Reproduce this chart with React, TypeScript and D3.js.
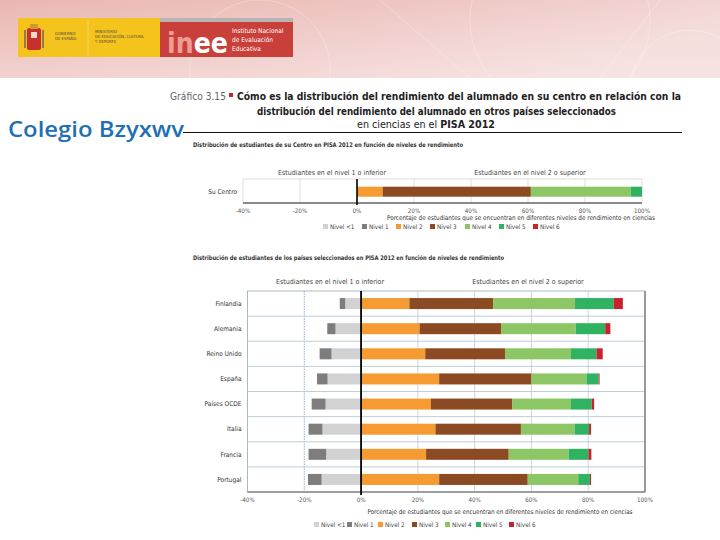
import * as React from "react";
import * as d3 from "d3";

// ---- data ----
const paises = ["Finlandia", "Alemania", "Reino Unido", "España", "Países OCDE", "Italia", "Francia", "Portugal"];
// left side (drawn from 0 outwards): light grey next to 0, dark grey outside
const nivelMenor1 = [5.6, 9.0, 10.4, 11.8, 12.5, 13.6, 12.3, 13.9];
const nivel1 = [1.9, 2.9, 4.2, 3.7, 4.9, 4.9, 6.2, 4.8];
const nivel2 = [17.0, 20.6, 22.6, 27.5, 24.6, 26.2, 22.9, 27.5];
const nivel3 = [29.5, 28.7, 28.1, 32.5, 28.7, 30.1, 29.1, 31.2];
const nivel4 = [28.8, 26.3, 23.2, 19.4, 20.6, 18.9, 21.1, 17.8];
const nivel5 = [13.7, 10.4, 9.0, 4.3, 7.3, 5.1, 7.0, 4.1];
const nivel6 = [3.2, 1.8, 2.2, 0.3, 0.9, 0.7, 1.0, 0.4];

// su centro
const centroLabel = "Su Centro";
const centroNegativo = [0, 0]; // nivel <1, nivel 1
const centroPositivo = [9, 52, 35, 4, 0]; // nivel 2..6

const ticks = [-40, -20, 0, 20, 40, 60, 80, 100];
const niveles = ["Nivel <1", "Nivel 1", "Nivel 2", "Nivel 3", "Nivel 4", "Nivel 5", "Nivel 6"];
const colores = ["#d2d2d2", "#7d7d7d", "#f59b32", "#8c4a22", "#8cc665", "#2fb363", "#c9222e"];

const FONT = "'Liberation Sans Narrow', 'DejaVu Sans Condensed', 'Liberation Sans', sans-serif";

function Legend({ x, y, gaps }: { x: number; y: number; gaps: number[] }) {
  return (
    <g>
      {niveles.map((n, i) => (
        <g key={n} transform={`translate(${x + gaps[i]},${y})`}>
          <rect x={0} y={-3} width={5} height={5} fill={colores[i]} />
          <text x={7} y={2} fontSize={6.3} fill="#444">{n}</text>
        </g>
      ))}
    </g>
  );
}

function Segments({ neg, pos, yc, h, x }: { neg: number[]; pos: number[]; yc: number; h: number; x: d3.ScaleLinear<number, number> }) {
  const out: JSX.Element[] = [];
  let acc = 0;
  neg.forEach((v, i) => {
    const x0 = x(-acc);
    const x1 = x(-(acc + v));
    out.push(<rect key={"n" + i} x={x1} y={yc - h / 2} width={x0 - x1} height={h} fill={colores[i]} />);
    acc += v;
  });
  acc = 0;
  pos.forEach((v, i) => {
    const x0 = x(acc);
    const x1 = x(acc + v);
    out.push(<rect key={"p" + i} x={x0} y={yc - h / 2} width={x1 - x0} height={h} fill={colores[i + 2]} />);
    acc += v;
  });
  return <g>{out}</g>;
}

export default function App() {
  // top chart
  const xTop = d3.scaleLinear().domain([-40, 100]).range([243, 642]);
  const topY0 = 179;
  const topY1 = 203;

  // bottom chart
  const xBot = d3.scaleLinear().domain([-40, 100]).range([247.5, 645]);
  const botY0 = 291;
  const botY1 = 492;
  const yBot = d3.scaleBand().domain(paises).range([botY0, botY1]);

  return (
    <svg width={720} height={540} style={{ position: "absolute", left: 0, top: 0, background: "#fff" }} fontFamily={FONT}>
      <defs>
        <linearGradient id="banner" x1="0" y1="0" x2="1" y2="0.3">
          <stop offset="0" stopColor="#eab6b2" />
          <stop offset="0.55" stopColor="#eec6c3" />
          <stop offset="1" stopColor="#f3d8d6" />
        </linearGradient>
        <linearGradient id="fade" x1="0" y1="0" x2="0" y2="1">
          <stop offset="0" stopColor="#fff" stopOpacity={0} />
          <stop offset="1" stopColor="#fff" stopOpacity={0.3} />
        </linearGradient>
      </defs>

      {/* header banner */}
      <rect x={0} y={0} width={720} height={78} fill="url(#banner)" />
      <rect x={0} y={0} width={720} height={78} fill="url(#fade)" />
      <g fill="none" stroke="#fff" strokeOpacity={0.35} strokeWidth={0.8}>
        <circle cx={260} cy={70} r={70} />
        <circle cx={560} cy={20} r={90} />
        <circle cx={690} cy={90} r={60} />
        <path d="M380 0 L470 78" />
        <path d="M600 78 L660 0" />
      </g>

      {/* gobierno / ministerio logo */}
      <rect x={18} y={18} width={142} height={39} fill="#f4c41c" />
      <line x1={88} y1={20} x2={88} y2={55} stroke="#f9dc7a" strokeWidth={0.8} />
      <g>
        <rect x={27} y={28} width={14} height={22} fill="#c8312b" rx={2} />
        <rect x={30} y={24} width={8} height={5} fill="#d19a2c" />
        <rect x={24} y={30} width={2} height={18} fill="#9c7a45" />
        <rect x={42} y={30} width={2} height={18} fill="#9c7a45" />
        <rect x={31} y={32} width={6} height={6} fill="#f3d7c7" />
      </g>
      <text x={55} y={35} fontSize={4.2} fill="#444">GOBIERNO</text>
      <text x={55} y={40} fontSize={4.2} fill="#444">DE ESPAÑA</text>
      <text x={95} y={33} fontSize={4.2} fill="#444">MINISTERIO</text>
      <text x={95} y={38} fontSize={4.2} fill="#444">DE EDUCACIÓN, CULTURA</text>
      <text x={95} y={43} fontSize={4.2} fill="#444">Y DEPORTE</text>

      {/* inee logo */}
      <rect x={160} y={18} width={133} height={4} fill="#b9b3b3" />
      <rect x={160} y={22} width={133} height={35} fill="#c9403b" />
      <text x={167} y={53} fontSize={28} fontWeight="bold" fill="#ec9d97" fontFamily="'DejaVu Sans', sans-serif" textLength={61} lengthAdjust="spacingAndGlyphs">
        in<tspan fill="#ffffff">ee</tspan>
      </text>
      <text x={232} y={33} fontSize={6.5} fill="#fff">Instituto Nacional</text>
      <text x={232} y={42} fontSize={6.5} fill="#fff">de Evaluación</text>
      <text x={232} y={51} fontSize={6.5} fill="#fff">Educativa</text>

      {/* titles */}
      <text x={170} y={100} fontSize={10.5} fill="#666" textLength={56} lengthAdjust="spacingAndGlyphs">Gráfico 3.15</text>
      <rect x={229} y={93} width={4} height={4} fill="#c9222e" />
      <text x={237} y={100} fontSize={10.5} fontWeight="bold" fill="#222" textLength={444} lengthAdjust="spacingAndGlyphs">
        Cómo es la distribución del rendimiento del alumnado en su centro en relación con la
      </text>
      <text x={257} y={115} fontSize={10.5} fontWeight="bold" fill="#222" textLength={359} lengthAdjust="spacingAndGlyphs">
        distribución del rendimiento del alumnado en otros países seleccionados
      </text>
      <text x={357} y={128} fontSize={10.5} fill="#222" textLength={138} lengthAdjust="spacingAndGlyphs">
        en ciencias en el <tspan fontWeight="bold">PISA 2012</tspan>
      </text>

      <text x={8} y={137} fontSize={21} fontWeight={600} fill="#1f6fb4" fontFamily="'Open Sans', 'DejaVu Sans', sans-serif" textLength={176} lengthAdjust="spacingAndGlyphs">
        Colegio Bzyxwv
      </text>
      <line x1={183} y1={132.5} x2={682} y2={132.5} stroke="#111" strokeWidth={1} />

      {/* ===== top chart ===== */}
      <text x={193} y={147} fontSize={6.3} fontWeight="bold" fill="#333" textLength={270} lengthAdjust="spacingAndGlyphs">
        Distribución de estudiantes de su Centro en PISA 2012 en función de niveles de rendimiento
      </text>
      <text x={332} y={175} fontSize={7} fill="#444" textAnchor="middle">Estudiantes en el nivel 1 o inferior</text>
      <text x={530} y={175} fontSize={7} fill="#444" textAnchor="middle">Estudiantes en el nivel 2 o superior</text>

      <rect x={xTop(-40)} y={topY0} width={xTop(100) - xTop(-40)} height={topY1 - topY0} fill="#fff" stroke="#cfcfcf" strokeWidth={0.7} />
      {ticks.filter((t) => t > -40 && t < 100 && t !== 0).map((t) => (
        <line key={t} x1={xTop(t)} x2={xTop(t)} y1={topY0} y2={topY1} stroke="#d6d6d6" strokeWidth={0.8} />
      ))}
      <Segments neg={centroNegativo} pos={centroPositivo} yc={191.7} h={10} x={xTop} />
      <line x1={xTop(-40)} x2={xTop(100)} y1={topY1} y2={topY1} stroke="#8a8a8a" strokeWidth={1.8} />
      <line x1={xTop(0)} x2={xTop(0)} y1={topY0} y2={205} stroke="#000" strokeWidth={1.6} />
      <text x={237} y={194} fontSize={6.5} fill="#333" textAnchor="end">{centroLabel}</text>
      {ticks.map((t) => (
        <text key={t} x={xTop(t)} y={213} fontSize={6.2} fill="#555" textAnchor="middle">{t + "%"}</text>
      ))}
      <text x={521} y={220} fontSize={6.5} fill="#333" textAnchor="middle" textLength={268} lengthAdjust="spacingAndGlyphs">
        Porcentaje de estudiantes que se encuentran en diferentes niveles de rendimiento en ciencias
      </text>
      <Legend x={323} y={227} gaps={[0, 39, 73, 107, 142, 176, 210]} />

      {/* ===== bottom chart ===== */}
      <text x={193} y={260} fontSize={6.3} fontWeight="bold" fill="#333" textLength={311} lengthAdjust="spacingAndGlyphs">
        Distribución de estudiantes de los países seleccionados en PISA 2012 en función de niveles de rendimiento
      </text>
      <text x={330} y={284} fontSize={7} fill="#444" textAnchor="middle">Estudiantes en el nivel 1 o inferior</text>
      <text x={528} y={284} fontSize={7} fill="#444" textAnchor="middle">Estudiantes en el nivel 2 o superior</text>

      <rect x={xBot(-40)} y={botY0} width={xBot(100) - xBot(-40)} height={botY1 - botY0} fill="#fff" stroke="#9aa6b2" strokeWidth={0.8} />
      {ticks.filter((t) => t > -40 && t < 100 && t !== 0).map((t) => (
        <line key={t} x1={xBot(t)} x2={xBot(t)} y1={botY0} y2={botY1} stroke={t === -20 ? "#7f9cc0" : "#bccbd9"} strokeWidth={0.8} strokeDasharray={t === -20 ? "1.5,1" : undefined} />
      ))}
      {paises.slice(1).map((p) => (
        <line key={p} x1={xBot(-40)} x2={xBot(100)} y1={yBot(p)!} y2={yBot(p)!} stroke="#b9c7d4" strokeWidth={0.9} />
      ))}
      {paises.map((p, i) => (
        <g key={p}>
          <Segments
            neg={[nivelMenor1[i], nivel1[i]]}
            pos={[nivel2[i], nivel3[i], nivel4[i], nivel5[i], nivel6[i]]}
            yc={yBot(p)! + yBot.bandwidth() / 2}
            h={11}
            x={xBot}
          />
          <text x={241.5} y={yBot(p)! + yBot.bandwidth() / 2 + 2.2} fontSize={6.5} fill="#333" textAnchor="end">{p}</text>
        </g>
      ))}
      <line x1={xBot(100)} x2={xBot(100)} y1={botY0} y2={botY1} stroke="#8a8a8a" strokeWidth={1.6} />
      <line x1={xBot(-40)} x2={xBot(100)} y1={botY1} y2={botY1} stroke="#8a8a8a" strokeWidth={1.6} />
      <line x1={xBot(0)} x2={xBot(0)} y1={botY0} y2={495} stroke="#000" strokeWidth={1.8} />
      {ticks.map((t) => (
        <text key={t} x={xBot(t)} y={502} fontSize={6.2} fill="#555" textAnchor="middle">{t + "%"}</text>
      ))}
      <text x={500} y={514} fontSize={6.5} fill="#333" textAnchor="middle" textLength={265} lengthAdjust="spacingAndGlyphs">
        Porcentaje de estudiantes que se encuentran en diferentes niveles de rendimiento en ciencias
      </text>
      <Legend x={314} y={525} gaps={[0, 33, 64, 98, 131, 162, 195]} />
    </svg>
  );
}
